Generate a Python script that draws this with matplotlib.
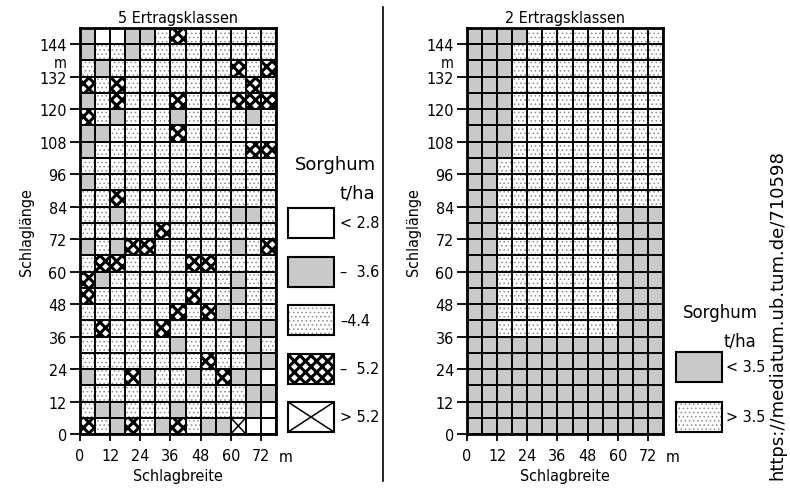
import matplotlib
matplotlib.use('Agg')
import matplotlib.pyplot as plt
from matplotlib.patches import Rectangle

# Ertragsklassen je Parzelle (6 m x 6 m), Zeilen von oben (150 m) nach unten (0 m)
# W: < 2.8, G: - 3.6, D: - 4.4, C: - 5.2, X: > 5.2
klassen_5 = [
    "GWWGGDCDDDDDD",
    "GDDGDDDDDDDDD",
    "DGDDDDDDDDCDC",
    "CDCDDDDDDDDCD",
    "GDCDDDCDDDCCC",
    "CDGDDDGDDDDGD",
    "GGDDDDCDDDDDD",
    "GDDDDDDDDDDCC",
    "DDDDDDDDDDDDD",
    "GDDDDDDDDDDDD",
    "DDCDDDDDDDDDD",
    "DDGDDDDDDDGGD",
    "DDDDDCDDDDDDD",
    "GDGCCDDDDDGDC",
    "DCCDDDDCCDDDD",
    "CGDDDDDDDDGDD",
    "CDDDDDDCDDGDD",
    "DDDDDDCDCGDDD",
    "DCDDDCDDDDGGG",
    "DDDDDDGDDDDGD",
    "DDDDDDDDCDDGG",
    "GDDCGDDGDCGGW",
    "DDDDDDDDDDDGG",
    "DGGDDDGDDDDGW",
    "CDGCDGCDGGXWW",
]
# G: < 3.5, D: > 3.5
klassen_2 = (["GGGGDDDDDDDDD"] + ["GGGDDDDDDDDDD"] * 7 + ["GGDDDDDDDDDDD"] * 3
             + ["GGDDDDDDDDGGG"] * 8 + ["GGGGGGGGGGGGG"] * 6)

legende_5 = ["< 2.8", "–  3.6", "–4.4", "–  5.2", "> 5.2"]
legende_5_codes = ["W", "G", "D", "C", "X"]
legende_2 = ["< 3.5", "> 3.5"]
legende_2_codes = ["G", "D"]

parzelle = 6
x_ticks = list(range(0, 73, 12))
y_ticks = list(range(0, 145, 12))

STYLE = {
    "W": dict(facecolor="white"),
    "G": dict(facecolor="#c9c9c9"),
    "D": dict(facecolor="white", hatch="....", edgecolor="#8c8c8c"),
    "C": dict(facecolor="white", hatch="xxx", edgecolor="black"),
    "X": dict(facecolor="white"),
}
TICKFONT = dict(family="DejaVu Sans", stretch="condensed", size=11.5)


def zelle(ax, x, y, w, h, code, lw_box=0):
    st = STYLE[code]
    r = Rectangle((x, y), w, h, linewidth=0, **st)
    if code == "C" and hasattr(r, "set_hatch_linewidth"):
        r.set_hatch_linewidth(2.2)
    if code == "D" and hasattr(r, "set_hatch_linewidth"):
        r.set_hatch_linewidth(0.6)
    ax.add_patch(r)
    if code == "X":
        ax.plot([x, x + w], [y, y + h], color="black", lw=1.1)
        ax.plot([x, x + w], [y + h, y], color="black", lw=1.1)
    if lw_box:
        ax.add_patch(Rectangle((x, y), w, h, fill=False, edgecolor="black", linewidth=lw_box))


def feld(ax, klassen, titel):
    n_rows = len(klassen)
    n_cols = len(klassen[0])
    top = n_rows * parzelle
    for i, row in enumerate(klassen):
        for j, code in enumerate(row):
            zelle(ax, j * parzelle, top - (i + 1) * parzelle, parzelle, parzelle, code)
    ax.vlines(range(0, n_cols * parzelle + 1, parzelle), 0, top, color="black", lw=1.4)
    ax.hlines(range(0, top + 1, parzelle), 0, n_cols * parzelle, color="black", lw=1.4)
    ax.set_xlim(0, n_cols * parzelle)
    ax.set_ylim(0, top)
    for s in ax.spines.values():
        s.set_linewidth(2)
    ax.set_xticks(x_ticks)
    ax.set_yticks(y_ticks)
    ax.set_xticklabels([str(v) for v in x_ticks], fontdict=TICKFONT)
    ax.set_yticklabels([str(v) for v in y_ticks], fontdict=TICKFONT)
    ax.tick_params(axis="y", length=7.5, width=1.3, pad=2)
    ax.tick_params(axis="x", length=5, width=1.3, pad=5)
    ax.set_title(titel, fontdict=TICKFONT, pad=4)
    ax.set_xlabel("Schlagbreite", fontdict=TICKFONT, labelpad=4)
    ax.set_ylabel("Schlaglänge", fontdict=TICKFONT, labelpad=4)
    ax.annotate("m", xy=(0, 137.5), xycoords=("axes fraction", "data"),
                xytext=(-9.5, -0.5), textcoords="offset points",
                ha="right", va="center", family="DejaVu Sans",
                stretch="condensed", size=10.5)
    ax.annotate("m", xy=(82, 0), xycoords="data",
                xytext=(0, -16.5), textcoords="offset points",
                ha="center", va="center", annotation_clip=False, **TICKFONT)


W, H = 790, 489
fig = plt.figure(figsize=(W / 100, H / 100), dpi=100)

ax1 = fig.add_axes([80 / W, (H - 435) / H, 196 / W, 406 / H])
feld(ax1, klassen_5, "5 Ertragsklassen")
ax2 = fig.add_axes([467 / W, (H - 435) / H, 196 / W, 406 / H])
feld(ax2, klassen_2, "2 Ertragsklassen")

# overlay in pixel coordinates for the legends and separator
ov = fig.add_axes([0, 0, 1, 1], facecolor="none")
ov.set_xlim(0, W)
ov.set_ylim(H, 0)
ov.axis("off")

ov.plot([383, 383], [8, 482], color="black", lw=1.2)

# legend 5 classes
ov.text(295, 165, "Sorghum", fontsize=13, ha="left", va="center")
ov.text(375, 193, "t/ha", fontsize=13, ha="right", va="center")
for k, (code, lab) in enumerate(zip(legende_5_codes, legende_5)):
    y0 = 209 + k * 48.5
    zelle(ov, 288, y0, 46, 30, code, lw_box=1.5)
    ov.text(340, y0 + 15, lab, ha="left", va="center", **TICKFONT)

# legend 2 classes
ov.text(683, 313, "Sorghum", fontsize=12, ha="left", va="center")
ov.text(756, 342, "t/ha", fontsize=12, ha="right", va="center")
for k, (code, lab) in enumerate(zip(legende_2_codes, legende_2)):
    y0 = 353 + k * 50
    zelle(ov, 676, y0, 46, 30, code, lw_box=1.5)
    ov.text(726, y0 + 15, lab, ha="left", va="center", **TICKFONT)

ov.text(777, 480, "https://mediatum.ub.tum.de/710598", rotation=90,
        fontsize=13, ha="center", va="bottom")

fig.savefig("out.png", dpi=100)
